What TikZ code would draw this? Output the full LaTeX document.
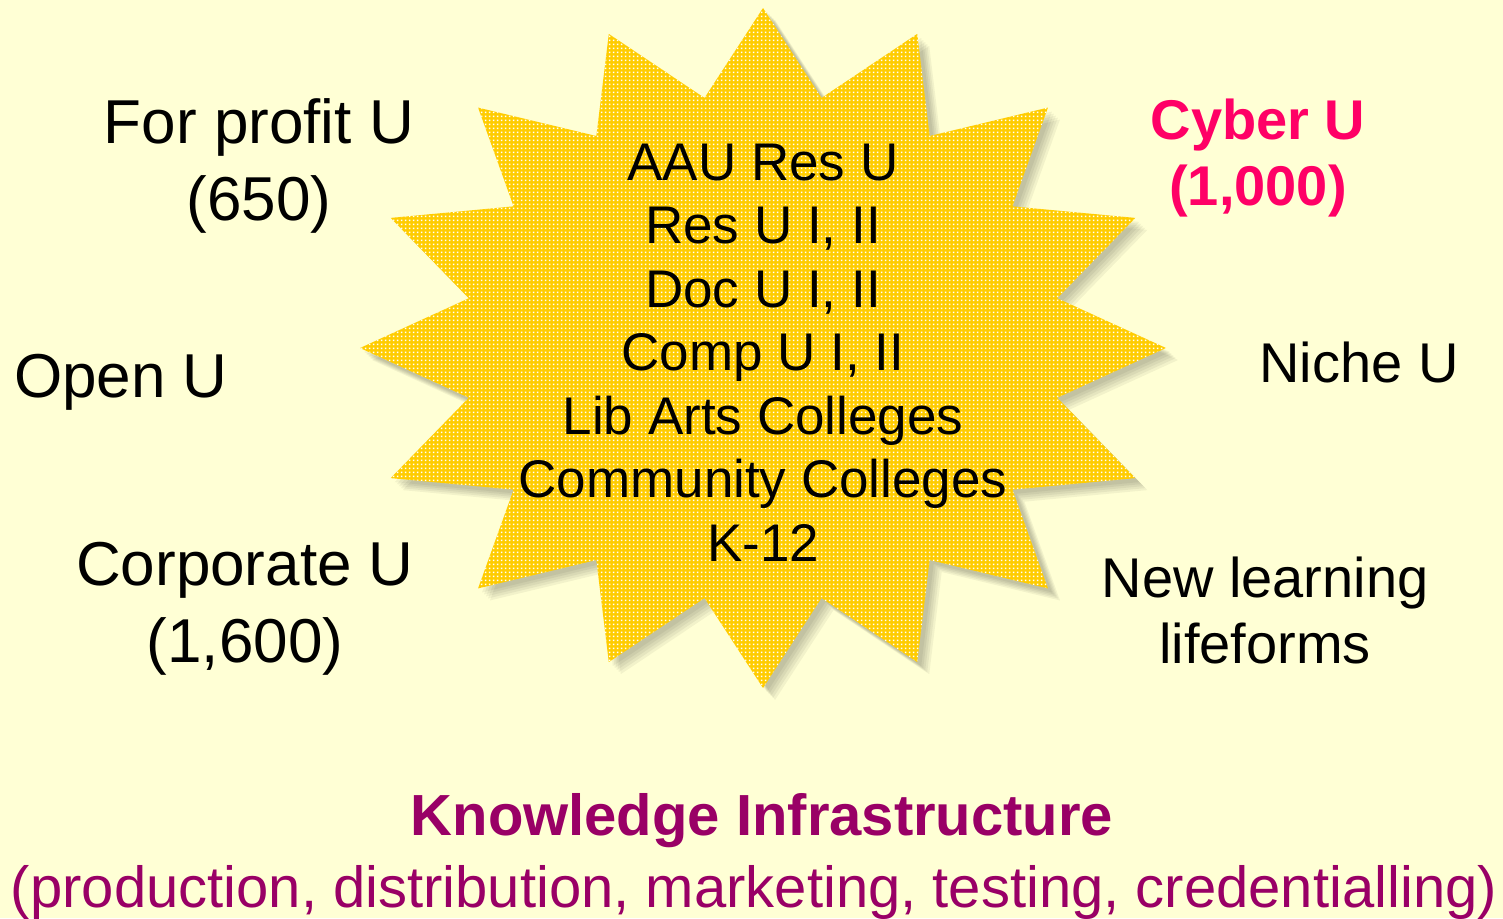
\documentclass[tikz,border=0pt]{standalone}
\usepackage{fontspec}
\setmainfont{Liberation Sans}
\usepackage{xcolor}
\usepackage{tikz}
\usetikzlibrary{patterns,positioning}

\definecolor{paper}{RGB}{255,255,213}
\definecolor{burstyellow}{RGB}{255,204,0}
\definecolor{cyberpink}{RGB}{255,0,102}
\definecolor{infraplum}{RGB}{153,0,102}

\pgfdeclarepatternformonly{burstdots}{\pgfqpoint{0pt}{0pt}}{\pgfqpoint{4pt}{4pt}}{\pgfqpoint{4pt}{4pt}}%
  {\pgfpathrectangle{\pgfqpoint{1pt}{1pt}}{\pgfqpoint{2pt}{2pt}}\pgfusepath{fill}}

% 16-point burst round (763,348)
\newcommand{\burstpath}[2]{%
  ({763+#1+403*cos(90)},{348+#2-340*sin(90)})
  \foreach \k in {1,...,31}{
    -- ({763+#1+(mod(\k,2)==0 ? 403 : 300)*cos(90-11.25*\k)},
        {348+#2-(mod(\k,2)==0 ? 340 : 255)*sin(90-11.25*\k)})
  } -- cycle}

\begin{document}
\begin{tikzpicture}[
    x=1pt, y=-1pt,
    sidetxt/.style={anchor=base, align=center, inner sep=0pt, font=\fontsize{62}{77}\selectfont},
    righttxt/.style={anchor=base, align=center, inner sep=0pt, font=\fontsize{56}{66}\selectfont},
    coretxt/.style={anchor=base, align=center, inner sep=0pt, font=\fontsize{53}{63.5}\selectfont},
    infratxt/.style={anchor=base, align=center, inner sep=0pt, text=infraplum, font=\fontsize{58}{72}\selectfont}
  ]
  \useasboundingbox (0,0) rectangle (1503,918);
  \fill[paper] (0,0) rectangle (1503,918);

  % burst with soft shadow
  \foreach \s in {12,10,8,6,4}
    \fill[black, opacity=0.05] \burstpath{\s}{\s};
  \fill[burstyellow, postaction={pattern=burstdots, pattern color=white}] \burstpath{0}{0};

  % anchor=base sits on the last line
  \node[coretxt] (core) at (763,561)
    {AAU Res U\\Res U I, II\\Doc U I, II\\Comp U I, II\\Lib Arts Colleges\\Community Colleges\\K-12};

  \node[sidetxt] (profit) at (259,220) {For profit U\\(650)};
  \node[sidetxt] (open)   at (121,397) {Open U};
  \node[sidetxt] (corp)   at (245,662) {Corporate U\\(1,600)};

  \node[righttxt, text=cyberpink, font=\fontsize{56}{66}\selectfont\bfseries] (cyber) at (1258,205) {Cyber U\\(1,000)};
  \node[righttxt] (niche)   at (1359,382) {Niche U};
  \node[righttxt] (newlife) at (1265,663) {New learning\\lifeforms};

  \node[infratxt, font=\fontsize{58}{72}\selectfont\bfseries] (infra) at (762,835) {Knowledge Infrastructure};
  \node[infratxt] (infrasub) at (754,907) {(production, distribution, marketing, testing, credentialling)};
\end{tikzpicture}
\end{document}
